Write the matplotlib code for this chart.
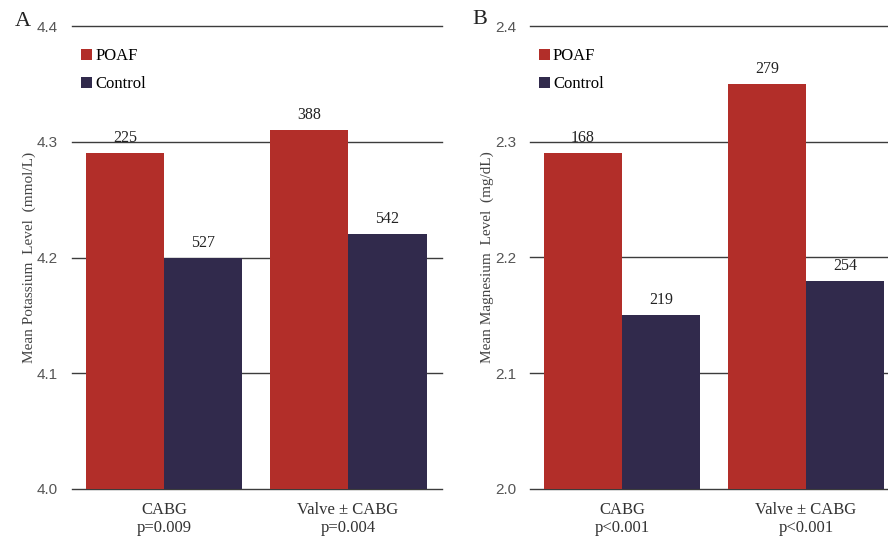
import matplotlib
matplotlib.use('Agg')
import matplotlib.pyplot as plt
import numpy as np

# 数据
groups = ['CABG', 'Valve ± CABG']
series = ['POAF', 'Control']

k_poaf = [4.29, 4.31]
k_ctrl = [4.20, 4.22]
k_n_poaf = [225, 388]
k_n_ctrl = [527, 542]
k_pvals = ['p=0.009', 'p=0.004']
k_ticks = [4.0, 4.1, 4.2, 4.3, 4.4]

mg_poaf = [2.29, 2.35]
mg_ctrl = [2.15, 2.18]
mg_n_poaf = [168, 279]
mg_n_ctrl = [219, 254]
mg_pvals = ['p<0.001', 'p<0.001']
mg_ticks = [2.0, 2.1, 2.2, 2.3, 2.4]

RED = '#B22E29'
NAVY = '#312A4C'
GRID = '#3c3c3c'
SERIF = 'Liberation Serif'

plt.rcParams['font.family'] = SERIF


def draw_panel(ax, poaf, ctrl, n_poaf, n_ctrl, pvals, ticks, ylabel, xright):
    x = np.arange(len(groups))
    w = 0.426
    b1 = ax.bar(x - w / 2, np.array(poaf) - ticks[0], w, bottom=ticks[0],
                color=RED, label=series[0], zorder=2)
    b2 = ax.bar(x + w / 2, np.array(ctrl) - ticks[0], w, bottom=ticks[0],
                color=NAVY, label=series[1], zorder=2)
    # 柱顶样本量
    for bars, ns in ((b1, n_poaf), (b2, n_ctrl)):
        for r, n in zip(bars, ns):
            ax.annotate(str(n), (r.get_x() + r.get_width() / 2, r.get_y() + r.get_height()),
                        xytext=(0, 5), textcoords='offset points',
                        ha='center', va='bottom', fontsize=11.5, color='#222222')

    ax.set_ylim(ticks[0], ticks[-1])
    ax.set_xlim(-0.5, xright)
    ax.set_yticks(ticks)
    ax.set_yticklabels([f'{t:.1f}' for t in ticks], family='Liberation Sans',
                       fontsize=11, color='#555555')
    ax.set_xticks(x)
    ax.set_xticklabels([f'{g}\n{p}' for g, p in zip(groups, pvals)],
                       fontsize=12, color='#333333', linespacing=1.2)
    ax.tick_params(axis='both', length=0)
    ax.tick_params(axis='y', pad=10)
    ax.tick_params(axis='x', pad=9)
    for t in ticks:
        ax.axhline(t, color=GRID, lw=1.0, zorder=1, clip_on=False)
    for s in ax.spines.values():
        s.set_visible(False)
    ax.set_ylabel(ylabel, fontsize=11, color='#444444', labelpad=1)
    ax.legend(loc='upper left', bbox_to_anchor=(0.006, 0.967), frameon=False,
              fontsize=12, handlelength=0.65, handleheight=0.65, handletextpad=0.2,
              labelspacing=0.75, borderaxespad=0.0)


fig = plt.figure(figsize=(8.88, 5.42), dpi=100)
ax1 = fig.add_axes([72 / 888, 1 - 489 / 542, 370 / 888, 463 / 542])
ax2 = fig.add_axes([530 / 888, 1 - 489 / 542, 358 / 888, 463 / 542])

draw_panel(ax1, k_poaf, k_ctrl, k_n_poaf, k_n_ctrl, k_pvals, k_ticks,
           'Mean Potassium  Level  (mmol/L)', 1.51)
draw_panel(ax2, mg_poaf, mg_ctrl, mg_n_poaf, mg_n_ctrl, mg_pvals, mg_ticks,
           'Mean Magnesium  Level  (mg/dL)', 1.446)

fig.text(15 / 888, 1 - 21 / 542, 'A', fontsize=16, ha='left', va='center', color='#222222')
fig.text(472 / 888, 1 - 19 / 542, 'B', fontsize=16, ha='left', va='center', color='#222222')

fig.savefig('out.png', dpi=100, facecolor='white')
